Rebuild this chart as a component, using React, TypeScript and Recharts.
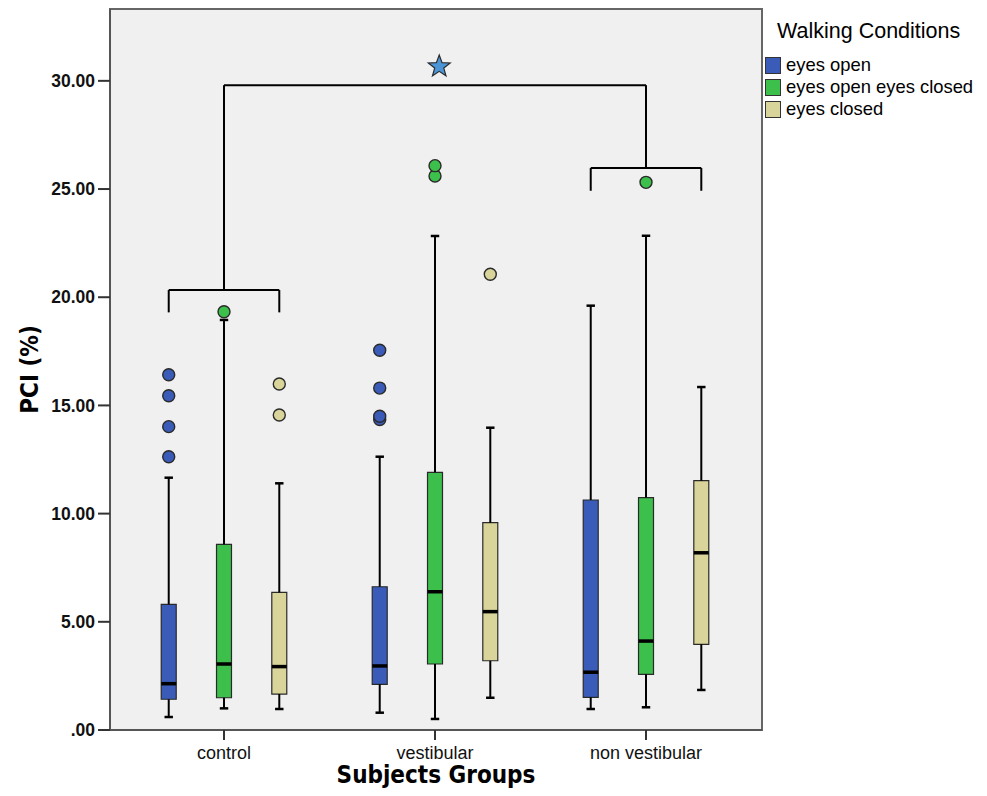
import React from 'react';
import { ComposedChart, XAxis, YAxis, ReferenceArea, ReferenceLine, Scatter } from 'recharts';

// ---------- data ----------
const groups = ['control', 'vestibular', 'non vestibular'];
const conditions = ['eyes open', 'eyes open eyes closed', 'eyes closed'];
const conditionColors = ['#3a5cb8', '#3cbf4b', '#d8d49a'];
const yTicks = [0, 5, 10, 15, 20, 25, 30];

// [min, q1, median, q3, max] for control, vestibular, non vestibular
const eyesOpenStats = [
  [0.6, 1.42, 2.14, 5.81, 11.66],
  [0.8, 2.11, 2.96, 6.62, 12.63],
  [0.97, 1.51, 2.67, 10.63, 19.61],
];
const eyesOpenClosedStats = [
  [1.0, 1.49, 3.05, 8.58, 18.95],
  [0.51, 3.05, 6.39, 11.91, 22.83],
  [1.05, 2.57, 4.11, 10.74, 22.84],
];
const eyesClosedStats = [
  [0.97, 1.66, 2.93, 6.36, 11.4],
  [1.49, 3.2, 5.47, 9.58, 13.97],
  [1.85, 3.96, 8.19, 11.52, 15.85],
];

const eyesOpenOutliers = [[12.63, 14.02, 15.45, 16.42], [14.35, 14.5, 15.8, 17.55], []];
const eyesOpenClosedOutliers = [[19.33], [25.6, 26.08], [25.31]];
const eyesClosedOutliers = [[14.56, 15.99], [21.06], []];

// significance brackets (group index 1..3, values in PCI units)
const leftBracket = { group: 1, level: 20.33, legEnd: 19.3 };
const rightBracket = { group: 3, level: 25.97, legEnd: 24.92 };
const topBracketLevel = 29.8;
const starPoint = [{ x: 2.02, y: 30.66 }];

// ---------- layout constants ----------
const X_MIN = 0.4597;
const X_MAX = 3.5497;
const Y_MAX = 33.32;
const OFFSET = 0.262;
const BOX_HALF = 0.0355;
const CAP_HALF = 0.02;

const allStats = [eyesOpenStats, eyesOpenClosedStats, eyesClosedStats];
const allOutliers = [eyesOpenOutliers, eyesOpenClosedOutliers, eyesClosedOutliers];

const outlierData = allOutliers.map((byGroup, ci) =>
  byGroup.flatMap((vals, gi) => vals.map((v) => ({ x: gi + 1 + (ci - 1) * OFFSET, y: v })))
);

const Star = (props: any) => {
  const { cx, cy } = props;
  const R = 11.5;
  const r = 4.8;
  const pts: string[] = [];
  for (let i = 0; i < 10; i++) {
    const ang = -Math.PI / 2 + (i * Math.PI) / 5;
    const rad = i % 2 === 0 ? R : r;
    pts.push(`${cx + rad * Math.cos(ang)},${cy + rad * Math.sin(ang)}`);
  }
  return <polygon points={pts.join(' ')} fill="#4b95d6" stroke="#2b2b2b" strokeWidth={1.2} />;
};

const makeDot = (fill: string) => (props: any) => (
  <circle cx={props.cx} cy={props.cy} r={6} fill={fill} stroke="#2a2a2a" strokeWidth={1.4} />
);

function boxElements() {
  const els: any[] = [];
  allStats.forEach((byGroup, ci) => {
    byGroup.forEach((s, gi) => {
      const [mn, q1, med, q3, mx] = s;
      const cx = gi + 1 + (ci - 1) * OFFSET;
      const k = `${ci}-${gi}`;
      els.push(
        <ReferenceLine key={`wl${k}`} segment={[{ x: cx, y: mn }, { x: cx, y: q1 }]} stroke="#000" strokeWidth={2} ifOverflow="visible" />,
        <ReferenceLine key={`wh${k}`} segment={[{ x: cx, y: q3 }, { x: cx, y: mx }]} stroke="#000" strokeWidth={2} ifOverflow="visible" />,
        <ReferenceLine key={`cl${k}`} segment={[{ x: cx - CAP_HALF, y: mn }, { x: cx + CAP_HALF, y: mn }]} stroke="#000" strokeWidth={2.5} ifOverflow="visible" />,
        <ReferenceLine key={`ch${k}`} segment={[{ x: cx - CAP_HALF, y: mx }, { x: cx + CAP_HALF, y: mx }]} stroke="#000" strokeWidth={2.5} ifOverflow="visible" />,
        <ReferenceArea key={`b${k}`} x1={cx - BOX_HALF} x2={cx + BOX_HALF} y1={q1} y2={q3} fill={conditionColors[ci]} fillOpacity={1} stroke="#2a2a2a" strokeWidth={1.2} ifOverflow="visible" />,
        <ReferenceLine key={`m${k}`} segment={[{ x: cx - BOX_HALF, y: med }, { x: cx + BOX_HALF, y: med }]} stroke="#000" strokeWidth={3.5} ifOverflow="visible" />
      );
    });
  });
  return els;
}

function bracketElements() {
  const els: any[] = [];
  [leftBracket, rightBracket].forEach((b, i) => {
    const l = b.group - OFFSET;
    const r = b.group + OFFSET;
    els.push(
      <ReferenceLine key={`bh${i}`} segment={[{ x: l, y: b.level }, { x: r, y: b.level }]} stroke="#000" strokeWidth={2} ifOverflow="visible" />,
      <ReferenceLine key={`bl${i}`} segment={[{ x: l, y: b.level }, { x: l, y: b.legEnd }]} stroke="#000" strokeWidth={2} ifOverflow="visible" />,
      <ReferenceLine key={`br${i}`} segment={[{ x: r, y: b.level }, { x: r, y: b.legEnd }]} stroke="#000" strokeWidth={2} ifOverflow="visible" />,
      <ReferenceLine key={`bv${i}`} segment={[{ x: b.group, y: b.level }, { x: b.group, y: topBracketLevel }]} stroke="#000" strokeWidth={2} ifOverflow="visible" />
    );
  });
  els.push(
    <ReferenceLine key="top" segment={[{ x: leftBracket.group, y: topBracketLevel }, { x: rightBracket.group, y: topBracketLevel }]} stroke="#000" strokeWidth={2} ifOverflow="visible" />
  );
  return els;
}

const YTitle = (props: any) => {
  const vb = props.viewBox || { x: 0, y: 9, width: 110, height: 721 };
  const cx = vb.x + 29;
  const cy = vb.y + vb.height / 2;
  return (
    <text x={cx} y={cy} transform={`rotate(-90, ${cx}, ${cy})`} textAnchor="middle" dy="0.36em"
      style={{ fontFamily: "'DejaVu Sans Condensed', 'DejaVu Sans', sans-serif", fontWeight: 'bold', fontSize: 24 }} fill="#000">
      PCI (%)
    </text>
  );
};

const XTitle = (props: any) => {
  const vb = props.viewBox || { x: 110, y: 730, width: 652, height: 66 };
  return (
    <text x={vb.x + vb.width / 2} y={vb.y + 53} textAnchor="middle"
      style={{ fontFamily: "'DejaVu Sans Condensed', 'DejaVu Sans', sans-serif", fontWeight: 'bold', fontSize: 24 }} fill="#000">
      Subjects Groups
    </text>
  );
};

export default function App() {
  return (
    <div style={{ position: 'absolute', left: 0, top: 0, width: 987, height: 796, background: '#fff' }}>
      <ComposedChart width={987} height={796} margin={{ top: 9, right: 225, bottom: 0, left: 0 }}>
        <XAxis
          type="number"
          dataKey="x"
          domain={[X_MIN, X_MAX]}
          ticks={[1, 2, 3]}
          tickFormatter={(v: number) => groups[v - 1]}
          allowDataOverflow
          height={66}
          tickSize={10}
          tickMargin={6}
          axisLine={{ stroke: '#555', strokeWidth: 2 }}
          tickLine={{ stroke: '#333', strokeWidth: 2 }}
          tick={{ fontFamily: "'Liberation Sans', Arial, sans-serif", fontSize: 18, fill: '#111' }}
          label={<XTitle />}
        />
        <YAxis
          type="number"
          dataKey="y"
          domain={[0, Y_MAX]}
          ticks={yTicks}
          tickFormatter={(v: number) => (v === 0 ? '.00' : v.toFixed(2))}
          allowDataOverflow
          width={110}
          tickSize={12}
          tickMargin={3}
          axisLine={{ stroke: '#555', strokeWidth: 2 }}
          tickLine={{ stroke: '#333', strokeWidth: 2 }}
          tick={{ fontFamily: "'Liberation Sans', Arial, sans-serif", fontSize: 17.5, fontWeight: 'bold', fill: '#111' }}
          label={<YTitle />}
        />
        <ReferenceArea x1={X_MIN} x2={X_MAX} y1={0} y2={Y_MAX} fill="#f0f0f0" fillOpacity={1} stroke="#666" strokeWidth={2} ifOverflow="visible" />
        {bracketElements()}
        {boxElements()}
        {outlierData.map((d, ci) => (
          <Scatter key={`o${ci}`} name={conditions[ci]} data={d} dataKey="y" fill={conditionColors[ci]}
            shape={makeDot(conditionColors[ci])} isAnimationActive={false} />
        ))}
        <Scatter name="significance" data={starPoint} dataKey="y" shape={Star} isAnimationActive={false} />
      </ComposedChart>
      <div style={{ position: 'absolute', left: 765, top: 18, fontFamily: "'Liberation Sans', Arial, sans-serif", color: '#000' }}>
        <div style={{ fontSize: 21.5, marginLeft: 12, lineHeight: '26px', height: 36, whiteSpace: 'nowrap' }}>Walking Conditions</div>
        {conditions.map((c, i) => (
          <div key={c} style={{ display: 'flex', alignItems: 'center', height: 22 }}>
            <div style={{ width: 14, height: 15, background: conditionColors[i], border: '1.5px solid #333', marginRight: 5 }} />
            <span style={{ fontSize: 18.4, lineHeight: '22px', whiteSpace: 'nowrap' }}>{c}</span>
          </div>
        ))}
      </div>
    </div>
  );
}
